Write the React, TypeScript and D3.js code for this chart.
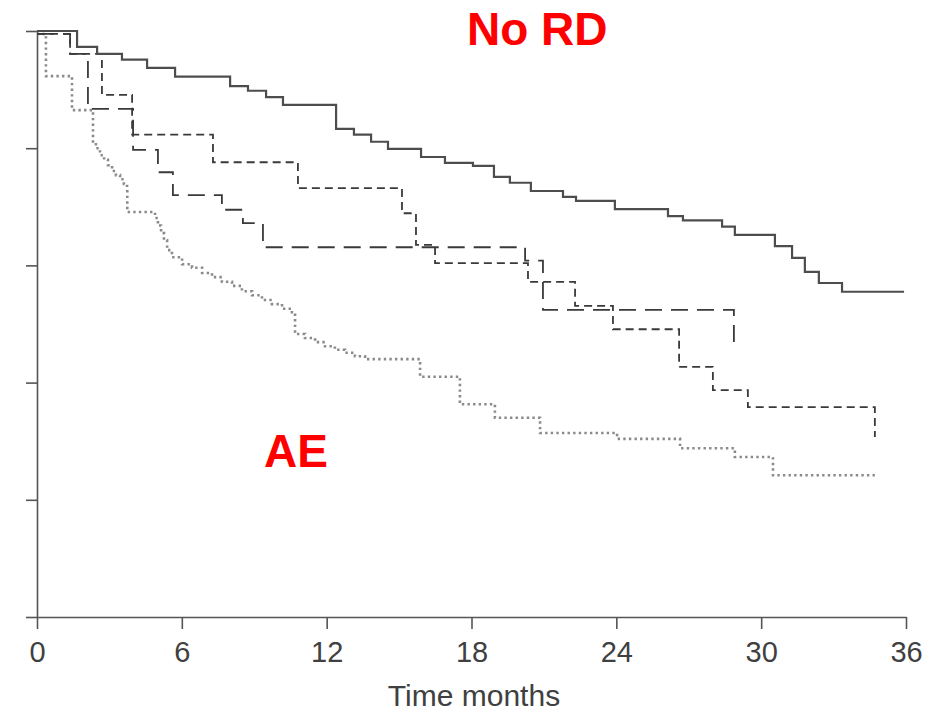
import * as React from 'react'
import * as d3 from 'd3'

// Kaplan-Meier style curves, step values
const xTicks = [0, 6, 12, 18, 24, 30, 36]
const yTicks = [0, 0.2, 0.4, 0.6, 0.8, 1.0]

const noRdTimes = [0, 1.66, 2.49, 3.52, 4.56, 5.72, 8.0, 8.74, 9.49, 10.19, 12.39, 13.13, 13.84, 14.54, 15.91, 16.9, 18.06, 18.93, 19.59, 20.46, 21.79, 22.33, 23.94, 26.14, 26.76, 28.38, 28.91, 30.57, 31.28, 31.81, 32.39, 33.35, 35.92]
const noRdSurv = [1.0, 0.973, 0.961, 0.951, 0.937, 0.922, 0.906, 0.898, 0.887, 0.874, 0.833, 0.823, 0.811, 0.799, 0.785, 0.775, 0.77, 0.751, 0.741, 0.727, 0.717, 0.71, 0.696, 0.684, 0.677, 0.666, 0.652, 0.633, 0.613, 0.589, 0.57, 0.555, 0.555]

const shortTimes = [0, 1.37, 2.69, 3.94, 7.29, 10.81, 15.12, 15.7, 16.49, 20.34, 22.29, 23.86, 26.6, 28.0, 29.45, 34.71]
const shortSurv = [0.995, 0.961, 0.891, 0.823, 0.776, 0.732, 0.689, 0.635, 0.604, 0.572, 0.531, 0.491, 0.427, 0.387, 0.358, 0.307]

const longTimes = [0, 1.37, 2.11, 3.98, 5.01, 5.63, 7.66, 8.53, 9.36, 20.22, 20.96, 28.87]
const longSurv = [0.995, 0.961, 0.867, 0.797, 0.759, 0.72, 0.695, 0.672, 0.631, 0.608, 0.524, 0.459]

const aeTimes = [0, 0.37, 1.45, 2.32, 2.44, 2.61, 2.78, 2.94, 3.11, 3.27, 3.44, 3.6, 3.73, 3.74,
  4.89, 5.01, 5.14, 5.26, 5.39, 5.59, 6.01, 6.42, 6.84, 7.25, 7.66, 8.08, 8.49, 8.91, 9.32, 9.73, 10.15, 10.56,
  10.69, 11.1, 11.52, 11.93, 12.34, 12.76, 13.17, 13.59, 15.87, 17.52, 18.97, 20.84, 24.03, 26.64, 28.91, 30.49, 34.71]
const aeSurv = [0.995, 0.923, 0.865, 0.809, 0.8, 0.788, 0.78, 0.771, 0.761, 0.754, 0.747, 0.739, 0.732, 0.691,
  0.681, 0.668, 0.655, 0.643, 0.626, 0.614, 0.602, 0.596, 0.587, 0.58, 0.572, 0.565, 0.556, 0.549, 0.541, 0.534, 0.526, 0.52,
  0.483, 0.476, 0.469, 0.462, 0.456, 0.451, 0.445, 0.44, 0.41, 0.363, 0.34, 0.314, 0.304, 0.288, 0.273, 0.242, 0.242]

const W = 948
const H = 714
const font = '"Liberation Sans", Arial, sans-serif'

const App = () => {
  const xAxisRef = React.useRef<SVGGElement>(null)
  const yAxisRef = React.useRef<SVGGElement>(null)

  const x = d3.scaleLinear().domain([0, 36]).range([37, 906])
  const y = d3.scaleLinear().domain([0, 1]).range([617, 31])

  const line = d3.line<[number, number]>()
    .x(d => x(d[0]))
    .y(d => y(d[1]))
    .curve(d3.curveStepAfter)

  const pts = (t: number[], s: number[]) => t.map((v, i) => [v, s[i]] as [number, number])

  const series = [
    { d: pts(aeTimes, aeSurv), stroke: '#8a8a8a', width: 2.6, dash: '2.4 3.2' },
    { d: pts(longTimes, longSurv), stroke: '#3a3a3a', width: 1.8, dash: '17 9' },
    { d: pts(shortTimes, shortSurv), stroke: '#3a3a3a', width: 1.8, dash: '8 5' },
    { d: pts(noRdTimes, noRdSurv), stroke: '#4d4d4d', width: 2.2, dash: null },
  ]

  React.useEffect(() => {
    const gx = d3.select(xAxisRef.current!)
    gx.call(d3.axisBottom(x).tickValues(xTicks).tickSize(12).tickPadding(12).tickSizeOuter(0))
    gx.select('.domain').attr('stroke', '#555').attr('stroke-width', 1.6)
    gx.selectAll('.tick line').attr('stroke', '#555').attr('stroke-width', 1.6)
    gx.selectAll('.tick text')
      .attr('fill', '#404040')
      .style('font-size', '29px')
      .style('font-family', font)

    const gy = d3.select(yAxisRef.current!)
    gy.call(d3.axisLeft(y).tickValues(yTicks).tickSize(11).tickFormat(() => '').tickSizeOuter(0))
    gy.select('.domain').attr('stroke', '#555').attr('stroke-width', 1.6)
    gy.selectAll('.tick line').attr('stroke', '#555').attr('stroke-width', 1.6)
  }, [])

  return (
    <svg width={W} height={H} style={{ position: 'absolute', left: 0, top: 0, background: '#fff' }}>
      <g ref={yAxisRef} transform={`translate(${x(0)},0)`} />
      <g ref={xAxisRef} transform={`translate(0,${y(0)})`} />
      {series.map((s, i) => (
        <path key={i} d={line(s.d) || ''} fill="none" stroke={s.stroke}
          strokeWidth={s.width} strokeDasharray={s.dash || undefined} />
      ))}
      <text x={474} y={706} textAnchor="middle" fill="#404040"
        style={{ fontSize: 30, fontFamily: font }}>Time months</text>
      <text x={467} y={45} fill="#ff0000"
        style={{ fontSize: 46, fontWeight: 'bold', fontFamily: font }}>No RD</text>
      <text x={264} y={467} fill="#ff0000"
        style={{ fontSize: 46, fontWeight: 'bold', fontFamily: font }}>AE</text>
    </svg>
  )
}

export default App
